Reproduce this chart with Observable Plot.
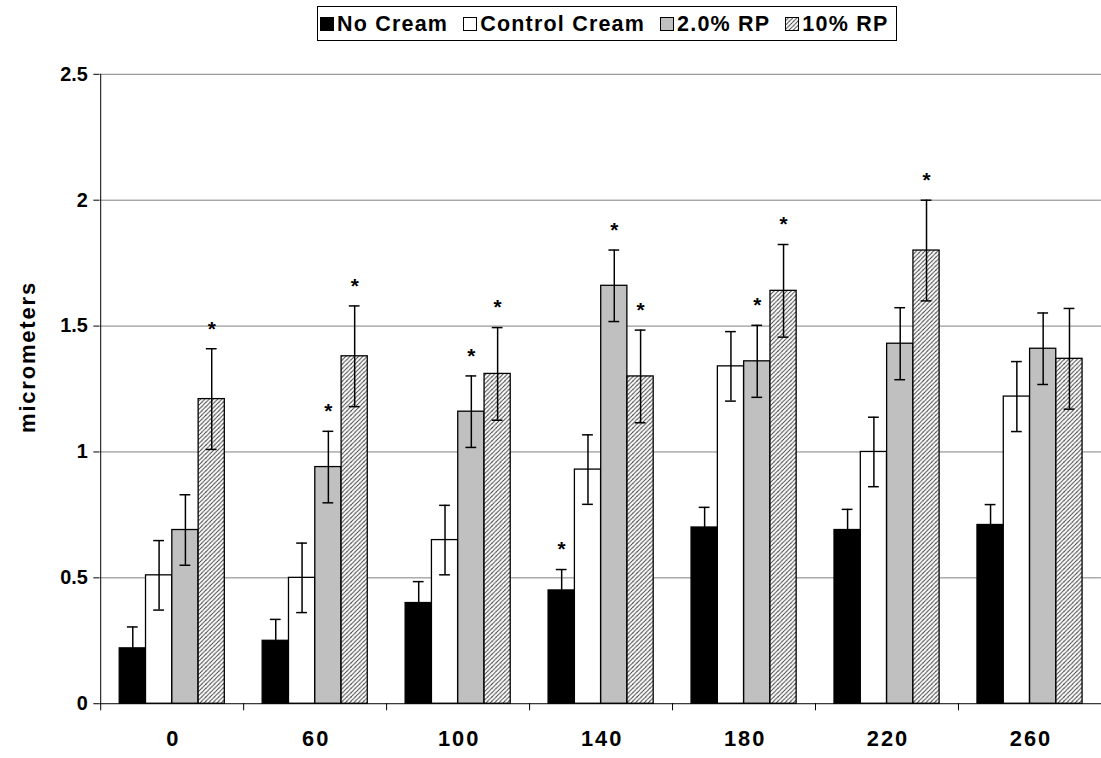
<!DOCTYPE html>
<html>
<head>
<meta charset="utf-8">
<script src="https://cdn.jsdelivr.net/npm/d3@7"></script>
<script src="https://cdn.jsdelivr.net/npm/@observablehq/plot@0.6"></script>
<style>
html, body { margin: 0; padding: 0; background: #fff; overflow: hidden; width: 1101px; height: 758px; }
body { font-family: "Liberation Sans", Arial, sans-serif; position: relative; }
#legend { position: relative; height: 48px; }
#legend .box { position: absolute; left: 317px; top: 6px; height: 35px; box-sizing: border-box; border: 1px solid #000;
  display: flex; align-items: center; padding: 1px 8px 0 2px; font-weight: bold; font-size: 21.5px; letter-spacing: 1.2px; white-space: nowrap; }
#legend .item { display: flex; align-items: center; margin-right: 15px; }
#legend .item:last-child { margin-right: 0; }
#legend svg { margin-right: 3px; }
#ylabel { position: absolute; left: 28px; top: 357px; transform: translate(-50%, -50%) rotate(-90deg); font-weight: bold; font-size: 22px; letter-spacing: 1.8px; white-space: nowrap; }
#chart { position: absolute; left: 0; top: 48px; }
#chart svg g[aria-label="x-axis tick label"] text { letter-spacing: 2px; }
</style>
</head>
<body>
<svg width="0" height="0" style="position:absolute">
  <defs>
    <pattern id="hatch" patternUnits="userSpaceOnUse" width="4.3" height="4.3">
      <rect width="4.3" height="4.3" fill="#fff"/>
      <path d="M-1,1.15 l2.3,-2.3 M0,4.3 l4.3,-4.3 M3.15,5.3 l2.3,-2.3" stroke="#3a3a3a" stroke-width="0.9"/>
    </pattern>
  </defs>
</svg>
<div id="legend"><div class="box"></div></div>
<div id="ylabel">micrometers</div>
<div id="chart"></div>
<script>
// ---- data ----
const times = ["0", "60", "100", "140", "180", "220", "260"];
const seriesNames = ["No Cream", "Control Cream", "2.0% RP", "10% RP"];

const noCream      = [0.22, 0.25, 0.40, 0.45, 0.70, 0.69, 0.71];
const controlCream = [0.51, 0.50, 0.65, 0.93, 1.34, 1.00, 1.22];
const rp2          = [0.69, 0.94, 1.16, 1.66, 1.36, 1.43, 1.41];
const rp10         = [1.21, 1.38, 1.31, 1.30, 1.64, 1.80, 1.37];

const errNoCream      = [0.085, 0.085, 0.085, 0.083, 0.08, 0.082, 0.081];
const errControlCream = [0.138, 0.138, 0.138, 0.138, 0.138, 0.138, 0.139];
const errRp2          = [0.14, 0.142, 0.142, 0.142, 0.143, 0.143, 0.142];
const errRp10         = [0.2, 0.2, 0.184, 0.184, 0.184, 0.2, 0.2];

const starNoCream      = [0, 0, 0, 1, 0, 0, 0];
const starControlCream = [0, 0, 0, 0, 0, 0, 0];
const starRp2          = [0, 1, 1, 1, 1, 0, 0];
const starRp10         = [1, 1, 1, 1, 1, 1, 0];

const yTicks = [0, 0.5, 1, 1.5, 2, 2.5];

// ---- build table ----
const values = [noCream, controlCream, rp2, rp10];
const errors = [errNoCream, errControlCream, errRp2, errRp10];
const stars = [starNoCream, starControlCream, starRp2, starRp10];
const fills = ["#000000", "#ffffff", "#c0c0c0", "url(#hatch)"];

const rows = seriesNames.map((s, si) => times.map((t, ti) => ({
  time: t, series: s, value: values[si][ti], err: errors[si][ti], star: stars[si][ti]
})));

// ---- layout ----
const W = 1109, ML = 100, MR = 0, MT = 26, MB = 50, H = 710;
const bw = (W - ML - MR) / times.length;
const barW = 26.5;
const capW = 11;
const barInset = (bw - barW) / 2;
const capInset = (bw - capW) / 2;

const marks = [
  Plot.gridY(yTicks.filter(d => d > 0), { stroke: "#808080", strokeOpacity: 1, strokeWidth: 1 }),
  Plot.axisY(yTicks, { tickSize: 6, tickPadding: 6, tickFormat: d => String(d), fontSize: 20, label: null, stroke: "#000" }),
  Plot.axisX(times, { tickSize: 0, tickPadding: 27, fontSize: 22, dx: 1, label: null })
];

rows.forEach((r, si) => {
  const dx = (si - 1.5) * barW;
  marks.push(
    Plot.barY(r, { x: "time", y: "value", fill: fills[si], stroke: "#000", strokeWidth: 1.3,
      insetLeft: barInset, insetRight: barInset, dx })
  );
});
rows.forEach((r, si) => {
  const dx = (si - 1.5) * barW;
  marks.push(
    Plot.ruleX(r, { x: "time", y1: d => d.value - d.err, y2: d => d.value + d.err, stroke: "#000", strokeWidth: 1.5, dx }),
    Plot.tickY(r, { x: "time", y: d => d.value + d.err, stroke: "#000", strokeWidth: 1.5, insetLeft: capInset, insetRight: capInset, dx }),
    Plot.tickY(r, { x: "time", y: d => d.value - d.err, stroke: "#000", strokeWidth: 1.5, insetLeft: capInset, insetRight: capInset, dx }),
    Plot.text(r.filter(d => d.star), { x: "time", y: d => d.value + d.err, text: () => "*", dx, dy: -20,
      fontSize: 21, fill: "#000" })
  );
});
marks.push(
  Plot.ruleY([0], { stroke: "#000", strokeWidth: 1 }),
  Plot.ruleX([times[0]], { x: d => d, dx: -bw / 2, stroke: "#000", strokeWidth: 1 }),
  Plot.ruleX(times, { x: d => d, y1: 0, y2: -0.028, dx: -bw / 2, stroke: "#000", strokeWidth: 1 })
);

const chart = Plot.plot({
  width: W, height: H,
  marginLeft: ML, marginRight: MR, marginTop: MT, marginBottom: MB,
  style: { fontFamily: "'Liberation Sans', Arial, sans-serif", fontWeight: "bold", color: "#000", background: "transparent", overflow: "visible" },
  x: { type: "band", domain: times, padding: 0, axis: null },
  y: { domain: [0, 2.5], axis: null },
  marks
});
document.getElementById("chart").appendChild(chart);

// ---- legend ----
const box = document.querySelector("#legend .box");
seriesNames.forEach((s, si) => {
  const item = document.createElement("div");
  item.className = "item";
  item.innerHTML = `<svg width="14" height="14"><rect x="0.5" y="0.5" width="13" height="13" fill="${fills[si]}" stroke="#000" stroke-width="1"/></svg><span>${s}</span>`;
  box.appendChild(item);
});
</script>
</body>
</html>
